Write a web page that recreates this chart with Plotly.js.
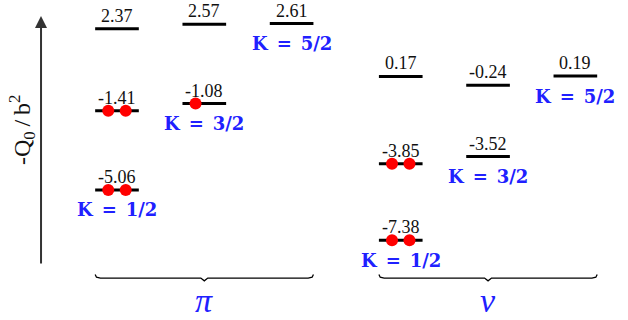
<!DOCTYPE html>
<html>
<head>
<meta charset="utf-8">
<script src="https://cdn.plot.ly/plotly-3.0.1.min.js"></script>
<style>
  html, body { margin: 0; padding: 0; background: #fff; }
  #chart { width: 628px; height: 320px; }
</style>
</head>
<body>
<div id="chart"></div>
<script>
// -Q0/b^2 of each orbital, column = K block (1 -> K=1/2, 2 -> K=3/2, 3 -> K=5/2)
const piValues = [-5.06, -1.41, -1.08, 2.37, 2.57, 2.61];
const piColumns = [1, 1, 2, 1, 2, 3];
const piOccupied = [2, 2, 1, 0, 0, 0];

const nuValues = [-7.38, -3.85, -3.52, 0.17, -0.24, 0.19];
const nuColumns = [1, 1, 2, 1, 2, 3];
const nuOccupied = [2, 2, 0, 0, 0, 0];

const kLabels = ['K\u2002=\u20021/2', 'K\u2002=\u20023/2', 'K\u2002=\u20025/2'];
const groupNames = ['π', 'ν'];

const groupOffset = [0, 3.25];
const halfWidth = 0.25;
const dotGap = 0.1;

let levelX = [], levelY = [];
let dotX = [], dotY = [];
let annotations = [];

function addGroup(values, columns, occupied, g) {
  let off = groupOffset[g];
  let lowest = {};
  for (let i = 0; i < values.length; i++) {
    let c = columns[i] + off;
    levelX.push(c - halfWidth, c + halfWidth, null);
    levelY.push(values[i], values[i], null);

    if (occupied[i] >= 1) { dotX.push(c - dotGap); dotY.push(values[i]); }
    if (occupied[i] >= 2) { dotX.push(c + dotGap); dotY.push(values[i]); }

    annotations.push({
      x: c, y: values[i], xref: 'x', yref: 'y',
      text: values[i].toFixed(2), showarrow: false,
      yanchor: 'middle', yshift: 13,
      font: {family: 'Liberation Serif', size: 18, color: '#111'}
    });

    let col = columns[i];
    if (lowest[col] === undefined || values[i] < values[lowest[col]]) lowest[col] = i;
  }
  for (let col in lowest) {
    let i = lowest[col];
    annotations.push({
      x: columns[i] + off, y: values[i], xref: 'x', yref: 'y',
      text: '<b>' + kLabels[col - 1] + '</b>', showarrow: false,
      yanchor: 'middle', yshift: -20,
      font: {family: 'DejaVu Serif', size: 18, color: '#2020ff'}
    });
  }
}

addGroup(piValues, piColumns, piOccupied, 0);
addGroup(nuValues, nuColumns, nuOccupied, 1);

// curly braces under each group
let braceX = [], braceY = [];
for (let g = 0; g < 2; g++) {
  let x0 = 1 + groupOffset[g] - halfWidth;
  let x1 = 3 + groupOffset[g] + halfWidth;
  let xc = (x0 + x1) / 2;
  braceX.push(x0, x0 + 0.015, x0 + 0.06, xc - 0.04, xc, xc + 0.04, x1 - 0.06, x1 - 0.015, x1, null);
  braceY.push(-8.96, -9.08, -9.12, -9.12, -9.25, -9.12, -9.12, -9.08, -8.96, null);
  annotations.push({
    x: xc, y: -10.15, xref: 'x', yref: 'y',
    text: '<i>' + groupNames[g] + '</i>', showarrow: false,
    font: {family: 'Liberation Serif', size: 34, color: '#2020ff'}
  });
}

// vertical axis arrow
annotations.push({
  x: 0.13, y: 2.96, ax: 0.13, ay: -8.52, xref: 'x', yref: 'y', axref: 'x', ayref: 'y',
  text: '', showarrow: true, arrowhead: 2, arrowsize: 1.2, arrowwidth: 2, arrowcolor: '#333', standoff: 0
});
annotations.push({
  x: 0.13, y: -2.3, xref: 'x', yref: 'y', xshift: -19,
  text: '-Q<sub>0</sub>\u2009/\u2009b<sup>2</sup>', showarrow: false, textangle: -90,
  font: {family: 'Liberation Serif', size: 24, color: '#111'}
});

let traces = [
  {x: levelX, y: levelY, mode: 'lines', line: {color: '#000', width: 3}, hoverinfo: 'skip'},
  {x: dotX, y: dotY, mode: 'markers', marker: {color: '#ff0000', size: 12}, hoverinfo: 'skip'},
  {x: braceX, y: braceY, mode: 'lines', line: {color: '#000', width: 1.3}, hoverinfo: 'skip'}
];

let layout = {
  width: 628, height: 320,
  margin: {l: 0, r: 0, t: 0, b: 0},
  paper_bgcolor: '#fff', plot_bgcolor: '#fff',
  showlegend: false,
  xaxis: {range: [-0.34, 6.853], visible: false, fixedrange: true},
  yaxis: {range: [-11.054, 3.693], visible: false, fixedrange: true},
  annotations: annotations
};

Plotly.newPlot('chart', traces, layout, {staticPlot: true, displayModeBar: false});
</script>
</body>
</html>
